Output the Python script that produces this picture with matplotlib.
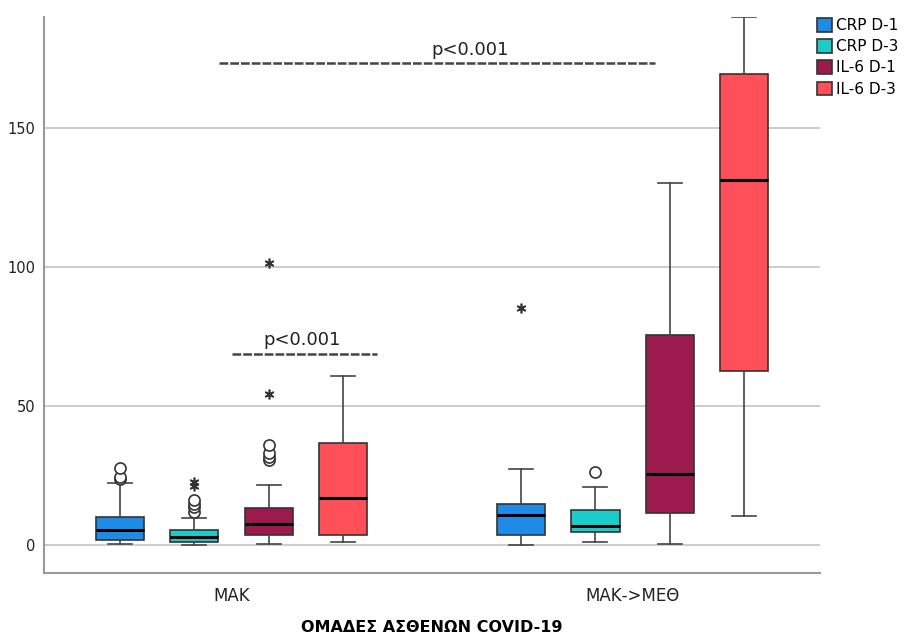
import matplotlib
matplotlib.use("Agg")
import matplotlib.pyplot as plt
from matplotlib.patches import Patch
import numpy as np

plt.rcParams['font.family'] = ['DejaVu Sans']

groups = ["ΜΑΚ", "ΜΑΚ->ΜΕΘ"]
series = ["CRP D-1", "CRP D-3", "IL-6 D-1", "IL-6 D-3"]
colors = ["#1E8CE6", "#1CCCCB", "#9D1A4E", "#FF4F58"]

# box statistics per group: [CRP D-1, CRP D-3, IL-6 D-1, IL-6 D-3]
whislo_mak = [0.3, 0.0, 0.4, 1.0]
q1_mak = [2.0, 1.3, 3.6, 3.6]
med_mak = [5.4, 2.8, 7.8, 16.8]
q3_mak = [10.2, 5.6, 13.2, 36.6]
whishi_mak = [22.2, 9.6, 21.6, 60.8]
circles_mak = [[23.7, 24.4, 27.7], [12.0, 13.6, 14.7, 16.2], [30.6, 31.8, 33.0, 36.0], []]
stars_mak = [[], [21.2, 22.8], [54.3, 101.5], []]

whislo_icu = [0.0, 1.0, 0.3, 10.5]
q1_icu = [3.6, 4.6, 11.6, 62.6]
med_icu = [11.0, 6.9, 25.6, 131.2]
q3_icu = [14.9, 12.5, 75.5, 169.4]
whishi_icu = [27.3, 21.1, 130.2, 190.0]
circles_icu = [[], [26.4], [], []]
stars_icu = [[85.3], [], [], []]

fig = plt.figure(figsize=(9.17, 6.42), dpi=100)
ax = fig.add_axes([0.048, 0.1075, 0.846, 0.866])

offsets = [-0.278, -0.093, 0.093, 0.278]
box_w = 0.12

group_stats = [
    (whislo_mak, q1_mak, med_mak, q3_mak, whishi_mak, circles_mak, stars_mak),
    (whislo_icu, q1_icu, med_icu, q3_icu, whishi_icu, circles_icu, stars_icu),
]

for gi, (wl, q1, md, q3, wh, circ, st) in enumerate(group_stats):
    for si in range(4):
        pos = gi + offsets[si]
        stats = [dict(med=md[si], q1=q1[si], q3=q3[si], whislo=wl[si], whishi=wh[si], fliers=[])]
        ax.bxp(stats, positions=[pos], widths=box_w, patch_artist=True, showfliers=False,
               capwidths=0.06, manage_ticks=False,
               boxprops=dict(facecolor=colors[si], edgecolor="#333333", linewidth=1.2),
               medianprops=dict(color="black", linewidth=2.2),
               whiskerprops=dict(color="#444444", linewidth=1.2),
               capprops=dict(color="#444444", linewidth=1.2))
        if circ[si]:
            ax.plot([pos] * len(circ[si]), circ[si], linestyle="none", marker="o",
                    markersize=8, markerfacecolor="white", markeredgecolor="#333333",
                    markeredgewidth=1.2, zorder=4)
        if st[si]:
            ax.plot([pos] * len(st[si]), st[si], linestyle="none", marker=(6, 2, 0),
                    markersize=7, color="#333333", markeredgewidth=1.2, zorder=4)

# significance annotations
ax.plot([-0.031, 1.055], [173.5, 173.5], color="#444444", linewidth=1.8,
        linestyle=(0, (3.5, 0.8)))
ax.text(0.594, 178.2, "p<0.001", ha="center", va="center", fontsize=13, color="#222222")
ax.plot([0.001, 0.362], [68.8, 68.8], color="#444444", linewidth=1.8,
        linestyle=(0, (3.5, 0.8)))
ax.text(0.175, 73.8, "p<0.001", ha="center", va="center", fontsize=13, color="#222222")

ax.set_xlim(-0.467, 1.466)
ax.set_ylim(-10, 190)
ax.set_yticks([0, 50, 100, 150])
ax.set_yticklabels(["0", "50", "100", "150"])
ax.set_xticks([0, 1])
ax.set_xticklabels(groups)
ax.tick_params(axis="both", length=0, labelsize=10.5, colors="#222222")
ax.tick_params(axis="x", pad=10, labelsize=12)
ax.tick_params(axis="y", pad=6)
ax.yaxis.grid(True, color="#C8C8C8", linewidth=1.3)
ax.set_axisbelow(True)
for s in ["top", "right"]:
    ax.spines[s].set_visible(False)
for s in ["left", "bottom"]:
    ax.spines[s].set_color("#999999")
    ax.spines[s].set_linewidth(1.5)

ax.set_xlabel("ΟΜΑΔΕΣ ΑΣΘΕΝΩΝ COVID-19", fontsize=11.5, fontweight="bold", labelpad=11)

handles = [Patch(facecolor=c, edgecolor="#333333", linewidth=1.2) for c in colors]
fig.legend(handles, series, loc="upper left", bbox_to_anchor=(0.891, 0.972),
           frameon=False, fontsize=11, handlelength=1.0, handleheight=1.0,
           handletextpad=0.25, labelspacing=0.4, borderaxespad=0, borderpad=0)

fig.savefig("out.png", dpi=100)
